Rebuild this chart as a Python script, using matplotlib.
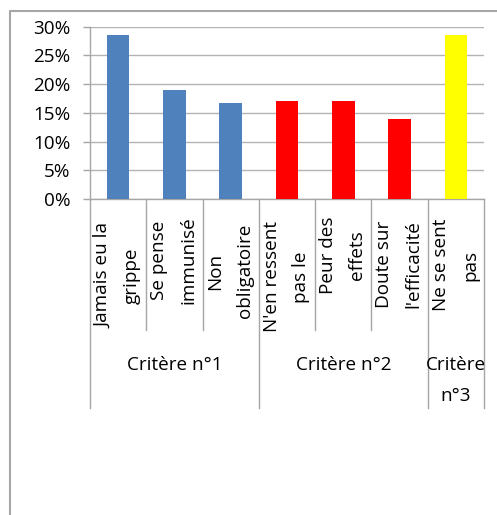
import matplotlib
matplotlib.use("Agg")
import matplotlib.pyplot as plt
from matplotlib.lines import Line2D
from matplotlib.ticker import FuncFormatter

plt.rcParams["font.family"] = ["Open Sans", "DejaVu Sans"]

# share of respondents per reason for not getting vaccinated
reasons = [
    ("Jamais eu la", "grippe"),
    ("Se pense", "immunisé"),
    ("Non", "obligatoire"),
    ("N'en ressent", "pas le"),
    ("Peur des", "effets"),
    ("Doute sur", "l'efficacité"),
    ("Ne se sent", "pas"),
]
shares = [0.285, 0.19, 0.167, 0.17, 0.17, 0.14, 0.285]
bar_colors = ["#4f81bd", "#4f81bd", "#4f81bd", "#ff0000", "#ff0000", "#ff0000", "#ffff00"]
groups = ["Critère n°1", "Critère n°2", "Critère\nn°3"]
group_sizes = [3, 3, 1]
y_ticks = [0, 0.05, 0.10, 0.15, 0.20, 0.25, 0.30]

W, H = 497, 515
AX_LEFT, AX_RIGHT, AX_TOP, AX_BOTTOM = 90, 484, 26.7, 199
GRAY = "#a6a6a6"
FS = 13.6

fig = plt.figure(figsize=(W / 100, H / 100), dpi=100)
fig.patch.set_facecolor("white")
ax = fig.add_axes([AX_LEFT / W, 1 - AX_BOTTOM / H,
                   (AX_RIGHT - AX_LEFT) / W, (AX_BOTTOM - AX_TOP) / H])

x = list(range(len(shares)))
ax.bar(x, shares, width=0.4, color=bar_colors, zorder=3)
ax.set_xlim(-0.5, len(shares) - 0.5)
ax.set_ylim(0, 0.30)
ax.set_yticks(y_ticks)
ax.yaxis.set_major_formatter(FuncFormatter(lambda v, _: f"{v * 100:.0f}%"))
ax.tick_params(axis="y", length=5, width=1, color=GRAY, labelsize=FS, pad=9)
ax.set_xticks([])
ax.grid(axis="y", color="#b3b3b3", linewidth=1, zorder=0)
for side in ("top", "right"):
    ax.spines[side].set_visible(False)
for side in ("left", "bottom"):
    ax.spines[side].set_color(GRAY)
    ax.spines[side].set_linewidth(1)

ax_h = AX_BOTTOM - AX_TOP
trans = ax.get_xaxis_transform()


def below(ypx):
    return (AX_BOTTOM - ypx) / ax_h


# vertical centre (px) of each rotated two-line category label
label_centers = [276, 260, 271, 277, 255, 264, 265]
line_dx = [-0.27, 0.25]
for i, (lines, yc) in enumerate(zip(reasons, label_centers)):
    for text, dx in zip(lines, line_dx):
        ax.text(i + dx, below(yc), text, transform=trans, rotation=90,
                ha="center", va="center", fontsize=FS, clip_on=False)

# separators between categories and between groups
group_edges = {-0.5}
start = 0
for size in group_sizes:
    start += size
    group_edges.add(start - 0.5)
for b in [k - 0.5 for k in range(len(shares) + 1)]:
    low = 408 if b in group_edges else 330
    ax.add_line(Line2D([b, b], [0, below(low)], transform=trans, color=GRAY,
                       linewidth=1, clip_on=False))

start = 0
for name, size in zip(groups, group_sizes):
    center = start + (size - 1) / 2
    ax.text(center, below(356), name, transform=trans, ha="center", va="top",
            fontsize=FS, linespacing=1.9, clip_on=False)
    start += size

# outer chart frame
fig.add_artist(Line2D([10 / W, 10 / W, 1], [0, 1 - 11 / H, 1 - 11 / H],
                      transform=fig.transFigure, color=GRAY, linewidth=1.5))

fig.savefig("out.png", dpi=100, facecolor="white")
